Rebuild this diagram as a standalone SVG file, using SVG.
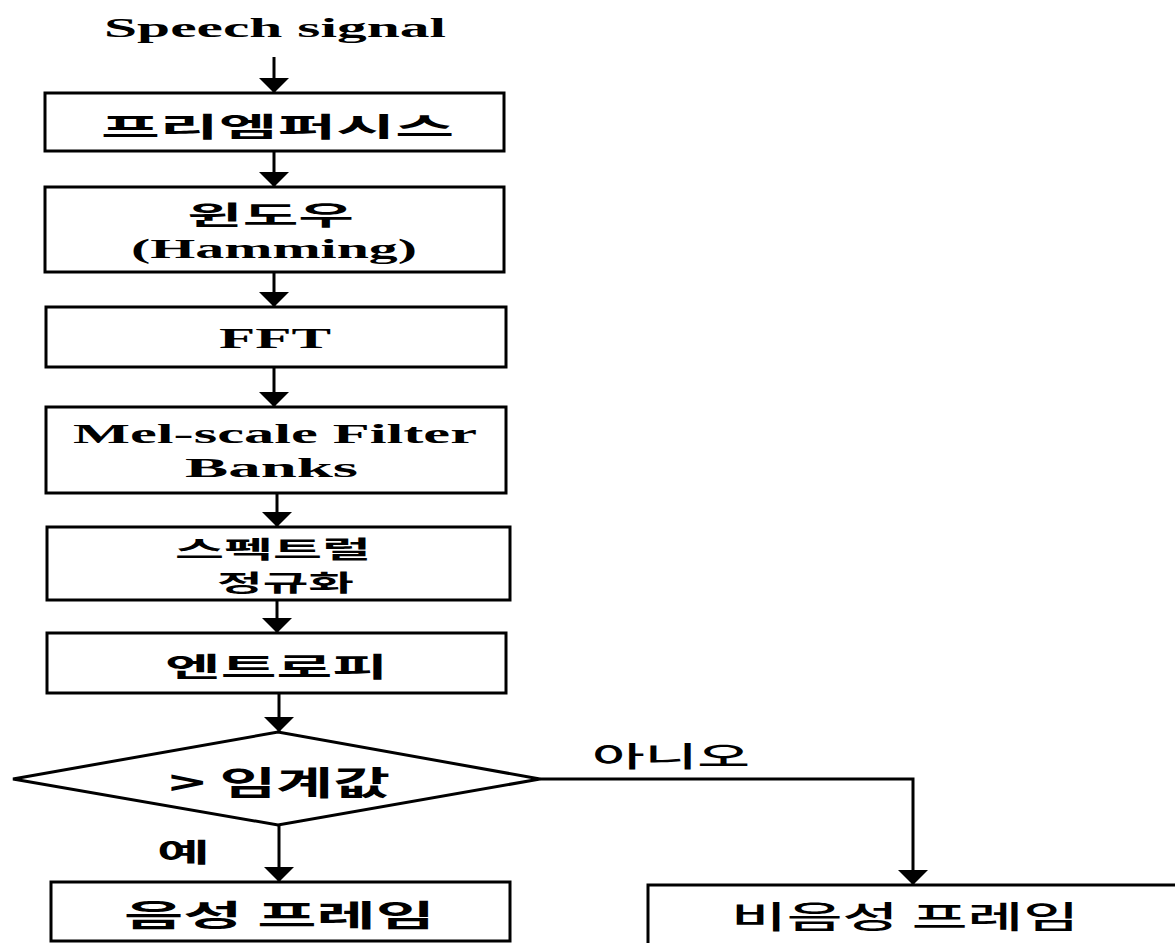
<svg xmlns="http://www.w3.org/2000/svg" width="1175" height="943" viewBox="0 0 1175 943">
<style>
.box{fill:#fff;stroke:#000;stroke-width:3}
.ln{fill:none;stroke:#000;stroke-width:3}
.en{font-family:"Liberation Serif","Times New Roman",serif;font-weight:bold;fill:#000}
.ko{font-family:"Noto Sans CJK KR","Noto Sans",sans-serif;font-weight:bold;fill:#000}
.km{font-family:"Noto Sans CJK KR","Noto Sans",sans-serif;font-weight:500;fill:#000}
</style>
<defs>
<marker id="ah" markerUnits="userSpaceOnUse" markerWidth="15" markerHeight="30" viewBox="0 0 15 30" refX="15" refY="15" orient="auto">
<path d="M0,0 L15,15 L0,30 z" fill="#000"/>
</marker>
</defs>
<rect width="1175" height="943" fill="#fff"/>
<g id="start"><text class="en" x="104" y="37" font-size="27" textLength="342" lengthAdjust="spacingAndGlyphs">Speech signal</text></g>
<g id="preemphasis"><rect class="box" x="45" y="93" width="459" height="58"/><text class="ko" x="101" y="137" font-size="27" textLength="353" lengthAdjust="spacingAndGlyphs">프리엠퍼시스</text></g>
<g id="window"><rect class="box" x="45" y="187" width="459" height="85"/><text class="ko" x="187" y="225" font-size="26" textLength="167" lengthAdjust="spacingAndGlyphs">윈도우</text><text class="en" x="131" y="258" font-size="27" textLength="286" lengthAdjust="spacingAndGlyphs">(Hamming)</text></g>
<g id="fft"><rect class="box" x="46" y="307" width="460" height="60"/><text class="en" x="219" y="348" font-size="30" textLength="112" lengthAdjust="spacingAndGlyphs">FFT</text></g>
<g id="mel"><rect class="box" x="46" y="407" width="460" height="86"/><text class="en" x="73" y="443" font-size="27" textLength="404" lengthAdjust="spacingAndGlyphs">Mel-scale Filter</text><text class="en" x="185" y="477" font-size="28" textLength="173" lengthAdjust="spacingAndGlyphs">Banks</text></g>
<g id="specnorm"><rect class="box" x="47" y="527" width="463" height="73"/><text class="ko" x="175" y="558" font-size="24" textLength="196" lengthAdjust="spacingAndGlyphs">스펙트럴</text><text class="ko" x="217" y="591" font-size="23" textLength="137" lengthAdjust="spacingAndGlyphs">정규화</text></g>
<g id="entropy"><rect class="box" x="47" y="633" width="459" height="60"/><text class="ko" x="165" y="677" font-size="27" textLength="223" lengthAdjust="spacingAndGlyphs">엔트로피</text></g>
<g id="decision"><polygon class="box" points="13,779 278,732 540,779 278,825"/><text class="ko" x="169" y="795" font-size="33" textLength="221" lengthAdjust="spacingAndGlyphs">&gt; 임계값</text></g>
<g id="speech-frame"><rect class="box" x="51" y="882" width="459" height="59"/><text class="ko" x="124" y="926" font-size="30" textLength="311" lengthAdjust="spacingAndGlyphs">음성 프레임</text></g>
<g id="nonspeech-frame"><rect class="box" x="648" y="885" width="600" height="100"/><text class="km" x="731" y="928" font-size="31" textLength="348" lengthAdjust="spacingAndGlyphs">비음성 프레임</text></g>
<g id="connectors">
<line class="ln" x1="274" y1="57" x2="274" y2="93" marker-end="url(#ah)"/>
<line class="ln" x1="274" y1="151" x2="274" y2="187" marker-end="url(#ah)"/>
<line class="ln" x1="274" y1="272" x2="274" y2="307" marker-end="url(#ah)"/>
<line class="ln" x1="274" y1="367" x2="274" y2="407" marker-end="url(#ah)"/>
<line class="ln" x1="277" y1="493" x2="277" y2="527" marker-end="url(#ah)"/>
<line class="ln" x1="277" y1="600" x2="277" y2="633" marker-end="url(#ah)"/>
<line class="ln" x1="279" y1="693" x2="279" y2="732" marker-end="url(#ah)"/>
<line class="ln" x1="279" y1="825" x2="279" y2="882" marker-end="url(#ah)"/>
<path class="ln" d="M540,779 H913 V885" marker-end="url(#ah)"/>
<text class="km" x="592" y="767" font-size="28" textLength="158" lengthAdjust="spacingAndGlyphs">아니오</text>
<text class="ko" x="157" y="862" font-size="26" textLength="53" lengthAdjust="spacingAndGlyphs">예</text>
</g>
</svg>
